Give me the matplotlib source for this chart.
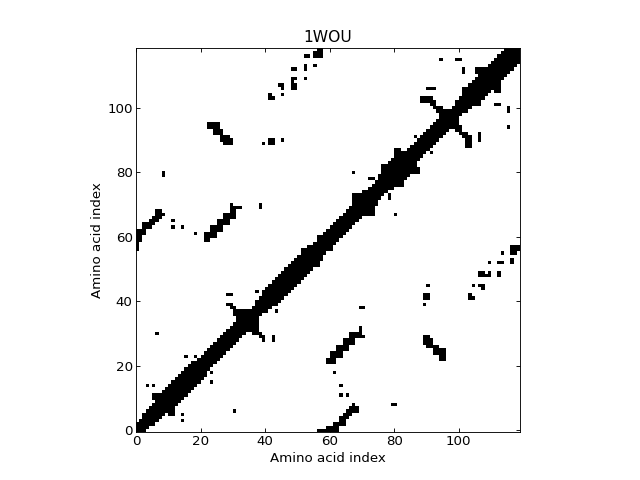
import matplotlib
matplotlib.use("Agg")
import matplotlib.pyplot as plt
import numpy as np

title = "1WOU"
n_res = 119
ticks = [0, 20, 40, 60, 80, 100]

# how far each residue's contacts run along the main diagonal
band_reach = [
    2, 2, 3, 3, 3, 3, 4, 4, 4, 4, 4, 4, 4, 4, 4, 4, 4, 4, 3, 3,
    3, 3, 3, 3, 3, 3, 3, 3, 3, 3, 3, 6, 5, 4, 3, 2, 2, 3, 3, 4,
    4, 4, 4, 4, 4, 4, 4, 4, 4, 4, 4, 5, 4, 4, 3, 3, 4, 3, 3, 3,
    3, 3, 3, 3, 3, 3, 3, 6, 5, 4, 4, 3, 3, 3, 3, 4, 6, 5, 5, 5,
    7, 6, 4, 3, 3, 3, 3, 3, 3, 3, 3, 3, 3, 3, 5, 4, 3, 2, 2, 3,
    3, 5, 4, 4, 4, 4, 4, 4, 4, 4, 4, 4, 4, 4, 4, 3, 2, 1, 0,
]

# (row, first column, last column), lower right half only
strand_a = [(0, 56, 62), (1, 59, 62), (2, 61, 64), (3, 63, 64), (4, 63, 65),
            (5, 64, 66), (6, 65, 68), (7, 66, 68), (8, 67, 67)]
strand_b = [(21, 59, 61), (22, 59, 61), (23, 60, 63), (24, 60, 63), (25, 62, 65),
            (26, 62, 65), (27, 64, 67), (28, 64, 67), (29, 66, 70), (30, 66, 69),
            (31, 69, 69), (32, 69, 69)]
strand_c = [(22, 94, 95), (23, 94, 95), (24, 92, 95), (25, 92, 95), (26, 90, 93),
            (27, 89, 91), (28, 89, 91), (29, 89, 90)]
arms = [(28, 39, 39), (29, 38, 39), (30, 36, 38), (88, 102, 103), (89, 102, 103),
        (90, 102, 103), (91, 101, 103), (92, 100, 102), (93, 99, 100), (94, 97, 100),
        (5, 10, 11), (6, 10, 11), (101, 105, 106), (102, 105, 106)]
patches = [(41, 89, 90), (42, 89, 90), (41, 103, 104), (42, 103, 103), (44, 107, 107),
           (45, 106, 107), (48, 106, 109), (49, 106, 107), (49, 109, 109), (48, 112, 112),
           (49, 112, 112), (52, 112, 113), (52, 116, 116), (53, 116, 116), (55, 116, 117),
           (56, 116, 118), (57, 116, 118), (38, 69, 70), (8, 79, 80), (90, 106, 106),
           (91, 106, 106), (92, 106, 106), (101, 111, 112), (105, 111, 112), (106, 111, 112),
           (107, 112, 112), (108, 112, 112), (111, 101, 101), (112, 101, 101), (72, 78, 78),
           (73, 78, 78), (99, 115, 115), (100, 115, 115), (28, 42, 42), (29, 42, 42)]

# single contacts
single_i = [18, 14, 11, 11, 6, 5, 3, 18, 15, 37, 28, 23, 23, 14, 14, 30, 43,
            45, 39, 45, 45, 52, 55, 67, 86, 94]
single_j = [61, 63, 63, 65, 30, 14, 14, 23, 23, 43, 39, 15, 18, 3, 5, 6, 37,
            90, 89, 104, 104, 109, 113, 80, 91, 115]

contact_map = np.zeros((n_res, n_res))
for i in range(n_res):
    contact_map[i, i:min(i + band_reach[i], n_res - 1) + 1] = 1
for row, first, last in strand_a + strand_b + strand_c + arms + patches:
    contact_map[row, first:last + 1] = 1
for i, j in zip(single_i, single_j):
    contact_map[i, j] = 1
contact_map = np.maximum(contact_map, contact_map.T)

plt.rcParams["font.family"] = "DejaVu Sans"
plt.rcParams["xtick.direction"] = "in"
plt.rcParams["ytick.direction"] = "in"
plt.rcParams["xtick.top"] = True
plt.rcParams["ytick.right"] = True

fig = plt.figure(figsize=(8, 6), dpi=80)
ax = fig.add_axes([0.125, 0.1, 0.775, 0.8])
# rows sit on whole numbers, columns start at the tick
ax.pcolormesh(np.arange(n_res + 1), np.arange(n_res + 1) - 0.5, contact_map,
              cmap="gray_r", vmin=0, vmax=1)
ax.set_aspect("equal")
ax.set_xlim(0, n_res)
ax.set_ylim(-0.5, n_res - 0.5)
ax.set_xticks(ticks)
ax.set_yticks(ticks)
ax.tick_params(labelsize=12, length=4, width=0.8, pad=3)
ax.set_xlabel("Amino acid index", fontsize=12, labelpad=3)
ax.set_ylabel("Amino acid index", fontsize=12, labelpad=3)
ax.set_title(title, fontsize=14, pad=5)
fig.savefig("out.png", dpi=80)
